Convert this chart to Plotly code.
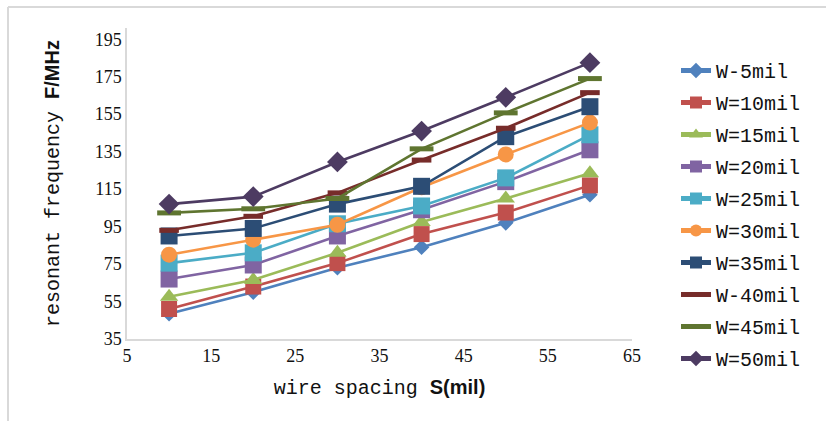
import plotly.graph_objects as go

spacing = [10, 20, 30, 40, 50, 60]
series_names = ["W-5mil", "W=10mil", "W=15mil", "W=20mil", "W=25mil",
                "W=30mil", "W=35mil", "W-40mil", "W=45mil", "W=50mil"]
w5 = [48.5, 60, 73, 84, 97, 112]
w10 = [51, 63, 75.5, 91, 102.5, 117]
w15 = [57.5, 66.5, 81, 97.5, 110, 123.5]
w20 = [67, 74.5, 90, 104, 119, 136]
w25 = [75.5, 81, 96.5, 106, 121, 144]
w30 = [80, 88, 96, 116, 133.5, 150.5]
w35 = [90, 94, 107, 116.5, 143, 159]
w40 = [93, 100.5, 113, 130.5, 147.5, 166.5]
w45 = [102.3, 104.5, 110, 136.5, 155.7, 174]
w50 = [107, 111, 129.5, 146, 164, 182.5]
values = [w5, w10, w15, w20, w25, w30, w35, w40, w45, w50]

colors = ["#4F81BD", "#C0504D", "#9BBB59", "#8064A2", "#4BACC6",
          "#F79646", "#2C4D75", "#772C2A", "#5F7530", "#4D3B62"]
symbols = ["diamond", "square", "triangle-up", "square", "square",
           "circle", "square", "line-ew", "line-ew", "diamond"]
sizes = [12, 16, 16, 17, 17, 16, 17, 14, 17, 16]

fig = go.Figure()
for name, vals, c, s, sz in zip(series_names, values, colors, symbols, sizes):
    marker = dict(symbol=s, size=sz, color=c)
    if s.startswith("line"):
        marker["line"] = dict(color=c, width=5)
    else:
        marker["line"] = dict(width=0)
    fig.add_trace(go.Scatter(x=spacing, y=vals, name=name, mode="lines+markers",
                             legendgroup=name,
                             line=dict(color=c, width=2.6), marker=marker))

W, H = 826, 421
L, R, T, B = 127, 194, 28, 82
pw, ph = W - L - R, H - T - B

def px(x):
    return (x - L) / pw

def py(y):
    return (H - B - y) / ph

fig.update_layout(
    width=W, height=H,
    margin=dict(l=L, r=R, t=T, b=B, autoexpand=False),
    paper_bgcolor="white", plot_bgcolor="white",
    showlegend=True,
    legend=dict(x=px(676), y=py(51), xanchor="left", yanchor="top",
                font=dict(family="Liberation Mono", size=20, color="#111"),
                tracegroupgap=3, itemwidth=30, bgcolor="rgba(0,0,0,0)",
                itemsizing="constant", maxheight=400),
    xaxis=dict(range=[5, 65], tickmode="linear", tick0=5, dtick=10,
               showgrid=False, zeroline=False, showline=True, automargin=False,
               linecolor="#D9D9D9", linewidth=1.5, ticks="",
               tickfont=dict(family="Liberation Serif", size=18, color="#111"),
               title=dict(text="wire spacing <b><span style='font-family:Liberation Sans'>S(mil)</span></b>",
                          font=dict(family="Liberation Mono", size=20, color="#111"),
                          standoff=15)),
    yaxis=dict(range=[35, 201], tickmode="linear", tick0=35, dtick=20,
               showgrid=False, zeroline=False, showline=True, automargin=False,
               linecolor="#D9D9D9", linewidth=1.5, ticks="",
               tickfont=dict(family="Liberation Serif", size=18, color="#111"),
               title=dict(text="resonant frequency <b><span style='font-family:Liberation Sans'>F/MHz</span></b>",
                          font=dict(family="Liberation Mono", size=20, color="#111"),
                          standoff=30)),
    shapes=[
        dict(type="line", xref="paper", yref="paper", x0=px(8), x1=px(826),
             y0=py(7), y1=py(7), line=dict(color="#D9D9D9", width=2)),
        dict(type="line", xref="paper", yref="paper", x0=px(8), x1=px(8),
             y0=py(7), y1=py(421), line=dict(color="#D9D9D9", width=2)),
    ],
)

fig.write_html("out.html", config={"displayModeBar": False},
               post_script="document.body.style.margin='0';document.body.style.overflow='hidden';")
